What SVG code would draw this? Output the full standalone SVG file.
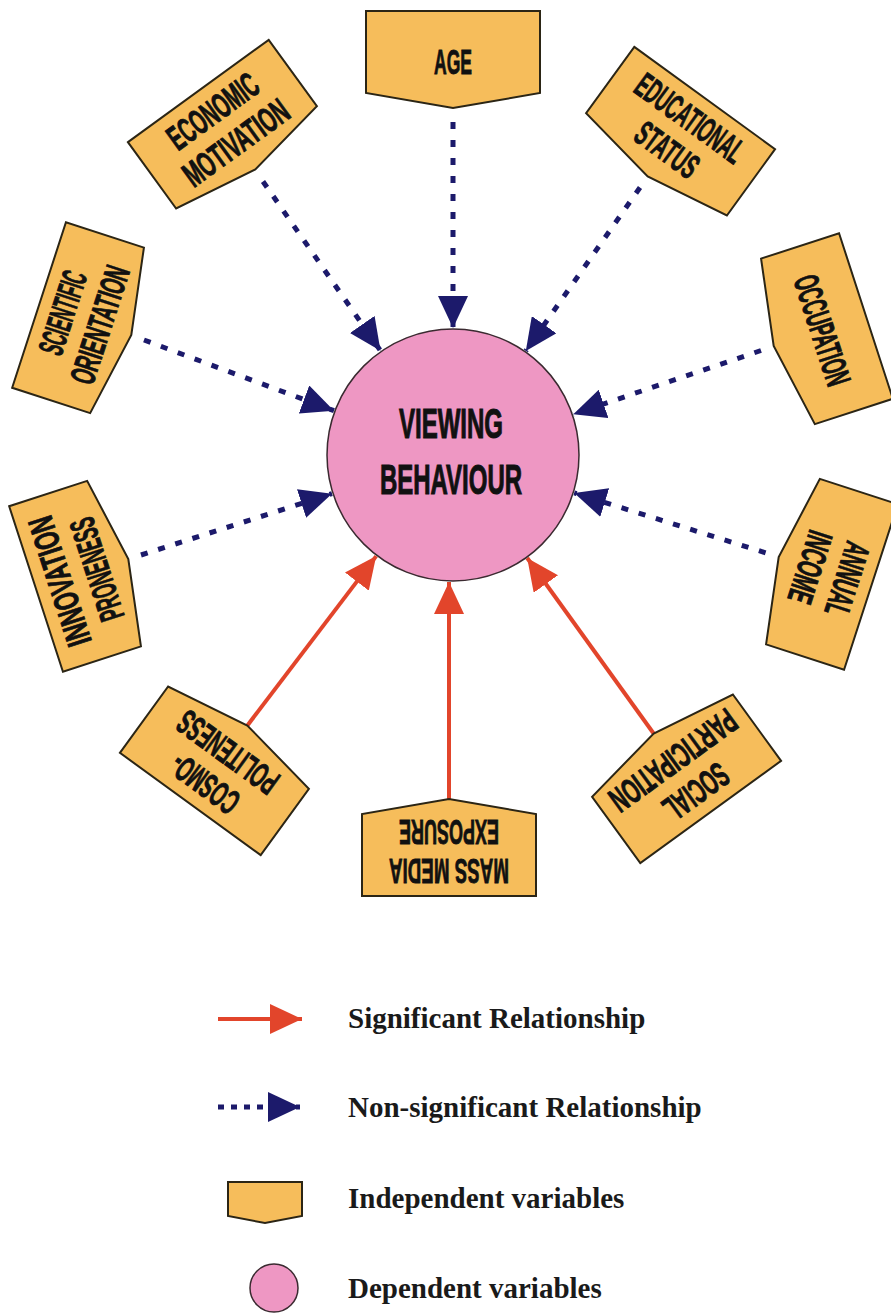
<svg xmlns="http://www.w3.org/2000/svg" xmlns:xlink="http://www.w3.org/1999/xlink" width="891" height="1313" viewBox="0 0 891 1313">
<style>
.box{fill:#F6BD5B;stroke:#2b2515;stroke-width:2;stroke-linejoin:miter}
.lbl{font-family:"Liberation Sans Narrow","Liberation Sans",Arial,sans-serif;font-weight:700;font-size:35px;text-anchor:middle;fill:#111;stroke:#111;stroke-width:0.9}
.big{font-family:"Liberation Sans Narrow","Liberation Sans",Arial,sans-serif;font-weight:700;font-size:43px;text-anchor:middle;fill:#111;stroke:#111;stroke-width:1.1}
.leg{font-family:"Liberation Serif","Times New Roman",serif;font-weight:700;font-size:29px;fill:#1a1a1a}
.ns{fill:none;stroke:#1c1a6b;stroke-width:5;stroke-dasharray:7 11}
.sig{fill:none;stroke:#E2452B;stroke-width:4}
</style>
<defs>
<path id="shape" d="M-87,-42 H87 V40 L0,55 L-87,40 Z"/>
<marker id="ahN" viewBox="0 0 32 30" refX="32" refY="15" markerWidth="32" markerHeight="30" markerUnits="userSpaceOnUse" orient="auto"><path d="M0,0 L32,15 L0,30 Z" fill="#1c1a6b"/></marker>
<marker id="ahR" viewBox="0 0 32 30" refX="32" refY="15" markerWidth="32" markerHeight="30" markerUnits="userSpaceOnUse" orient="auto"><path d="M0,0 L32,15 L0,30 Z" fill="#E2452B"/></marker>
</defs>
<rect width="891" height="1313" fill="#ffffff"/>

<g id="connectors">
<path class="ns" d="M453,122 L453,328" marker-end="url(#ahN)"/>
<path class="ns" d="M263,181.5 L380.5,350.7" marker-end="url(#ahN)"/>
<path class="ns" d="M640,187.5 L525.8,350.9" marker-end="url(#ahN)"/>
<path class="ns" d="M144,340 L334,410.7" marker-end="url(#ahN)"/>
<path class="ns" d="M761,350.5 L573.3,414.2" marker-end="url(#ahN)"/>
<path class="ns" d="M141,555 L332,493.7" marker-end="url(#ahN)"/>
<path class="ns" d="M765.6,552.8 L574.2,492.9" marker-end="url(#ahN)"/>
<path class="sig" d="M247,726 L376.2,556.1" marker-end="url(#ahR)"/>
<path class="sig" d="M449,799 L449,582" marker-end="url(#ahR)"/>
<path class="sig" d="M654,734 L527.2,558" marker-end="url(#ahR)"/>
</g>

<g id="node-viewing-behaviour">
<circle cx="453" cy="455" r="126" fill="#EE97C3" stroke="#3a2a30" stroke-width="1.5"/>
<text class="big" x="451" y="438" textLength="104" lengthAdjust="spacingAndGlyphs">VIEWING</text>
<text class="big" x="451" y="494" textLength="142" lengthAdjust="spacingAndGlyphs">BEHAVIOUR</text>
</g>

<g id="node-age" transform="translate(453,53)">
<use xlink:href="#shape" class="box"/>
<text class="lbl" x="0" y="21" textLength="38" lengthAdjust="spacingAndGlyphs">AGE</text>
</g>

<g id="node-economic-motivation" transform="translate(223,125) rotate(-36)">
<use xlink:href="#shape" class="box"/>
<text class="lbl" x="0" y="-5" textLength="104" lengthAdjust="spacingAndGlyphs">ECONOMIC</text>
<text class="lbl" x="0" y="34" textLength="122" lengthAdjust="spacingAndGlyphs">MOTIVATION</text>
</g>

<g id="node-educational-status" transform="translate(680,132) rotate(36)">
<use xlink:href="#shape" class="box"/>
<text class="lbl" x="0" y="-5" textLength="126" lengthAdjust="spacingAndGlyphs">EDUCATIONAL</text>
<text class="lbl" x="0" y="34" textLength="70" lengthAdjust="spacingAndGlyphs">STATUS</text>
</g>

<g id="node-scientific-orientation" transform="translate(79,318) rotate(-72)">
<use xlink:href="#shape" class="box"/>
<text class="lbl" x="0" y="-5" textLength="86" lengthAdjust="spacingAndGlyphs">SCIENTIFIC</text>
<text class="lbl" x="0" y="34" textLength="122" lengthAdjust="spacingAndGlyphs">ORIENTATION</text>
</g>

<g id="node-occupation" transform="translate(826,329) rotate(72)">
<use xlink:href="#shape" class="box"/>
<text class="lbl" x="0" y="16" textLength="114" lengthAdjust="spacingAndGlyphs">OCCUPATION</text>
</g>

<g id="node-innovation-proneness" transform="translate(76,576) rotate(-108)">
<use xlink:href="#shape" class="box"/>
<text class="lbl" x="0" y="-5" textLength="134" lengthAdjust="spacingAndGlyphs">INNOVATION</text>
<text class="lbl" x="0" y="34" textLength="106" lengthAdjust="spacingAndGlyphs">PRONENESS</text>
</g>

<g id="node-annual-income" transform="translate(831,574) rotate(108)">
<use xlink:href="#shape" class="box"/>
<text class="lbl" x="0" y="-5" textLength="76" lengthAdjust="spacingAndGlyphs">ANNUAL</text>
<text class="lbl" x="0" y="34" textLength="74" lengthAdjust="spacingAndGlyphs">INCOME</text>
</g>

<g id="node-cosmopoliteness" transform="translate(215,770) rotate(-144)">
<use xlink:href="#shape" class="box"/>
<text class="lbl" x="0" y="-5" textLength="76" lengthAdjust="spacingAndGlyphs">COSMO-</text>
<text class="lbl" x="0" y="34" textLength="116" lengthAdjust="spacingAndGlyphs">POLITENESS</text>
</g>

<g id="node-mass-media-exposure" transform="translate(449,854) rotate(180)">
<use xlink:href="#shape" class="box"/>
<text class="lbl" x="0" y="-5" textLength="120" lengthAdjust="spacingAndGlyphs">MASS MEDIA</text>
<text class="lbl" x="0" y="34" textLength="100" lengthAdjust="spacingAndGlyphs">EXPOSURE</text>
</g>

<g id="node-social-participation" transform="translate(686,778) rotate(144)">
<use xlink:href="#shape" class="box"/>
<text class="lbl" x="0" y="-5" textLength="72" lengthAdjust="spacingAndGlyphs">SOCIAL</text>
<text class="lbl" x="0" y="34" textLength="148" lengthAdjust="spacingAndGlyphs">PARTICIPATION</text>
</g>

<g id="legend">
<path class="sig" d="M218,1019 L302,1019" marker-end="url(#ahR)"/>
<text class="leg" x="348" y="1028">Significant Relationship</text>
<path d="M218,1107 L300,1107" fill="none" stroke="#1c1a6b" stroke-width="5" stroke-dasharray="6 7" marker-end="url(#ahN)"/>
<text class="leg" x="348" y="1117">Non-significant Relationship</text>
<path d="M228,1182 H302 V1216 L265,1223 L228,1216 Z" class="box"/>
<text class="leg" x="348" y="1208">Independent variables</text>
<circle cx="274" cy="1288" r="24" fill="#EE97C3" stroke="#3a2a30" stroke-width="1.5"/>
<text class="leg" x="348" y="1298">Dependent variables</text>
</g>
</svg>
